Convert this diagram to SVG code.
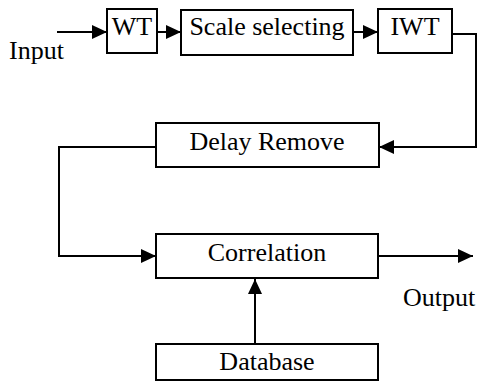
<svg xmlns="http://www.w3.org/2000/svg" width="477" height="390" viewBox="0 0 477 390">
<style>
.box{fill:#fff;stroke:#000;stroke-width:2}
.t{font-family:"Liberation Serif","Times New Roman",serif;font-size:26px;fill:#000}
.c{text-anchor:middle}
.ln{fill:none;stroke:#000;stroke-width:2}
</style>
<defs>
<marker id="ah" markerUnits="userSpaceOnUse" markerWidth="16" markerHeight="14" refX="15" refY="7" orient="auto">
<path d="M0,0 L15,7 L0,14 Z" fill="#000"/>
</marker>
</defs>
<g id="connectors">
<path class="ln" d="M57,32 H107" marker-end="url(#ah)"/>
<path class="ln" d="M157,32 H181" marker-end="url(#ah)"/>
<path class="ln" d="M353,32 H378" marker-end="url(#ah)"/>
<path class="ln" d="M452,34 H476 V147 H379" marker-end="url(#ah)"/>
<path class="ln" d="M156,147 H59 V256 H156" marker-end="url(#ah)"/>
<path class="ln" d="M378,256 H473" marker-end="url(#ah)"/>
<path class="ln" d="M255,344 V279" marker-end="url(#ah)"/>
</g>
<g id="input"><text class="t" x="9" y="59">Input</text></g>
<g id="wt"><rect class="box" x="107" y="9" width="50" height="44"/><text class="t c" x="132" y="35">WT</text></g>
<g id="scale"><rect class="box" x="181" y="10" width="172" height="45"/><text class="t c" x="267" y="35">Scale selecting</text></g>
<g id="iwt"><rect class="box" x="378" y="9" width="74" height="44"/><text class="t c" x="415" y="35">IWT</text></g>
<g id="delay"><rect class="box" x="156" y="123" width="223" height="44"/><text class="t c" x="267" y="150">Delay Remove</text></g>
<g id="correlation"><rect class="box" x="156" y="234" width="222" height="44"/><text class="t c" x="267" y="261">Correlation</text></g>
<g id="output"><text class="t" x="403" y="306">Output</text></g>
<g id="database"><rect class="box" x="156" y="344" width="222" height="36"/><text class="t c" x="267" y="370">Database</text></g>
</svg>
